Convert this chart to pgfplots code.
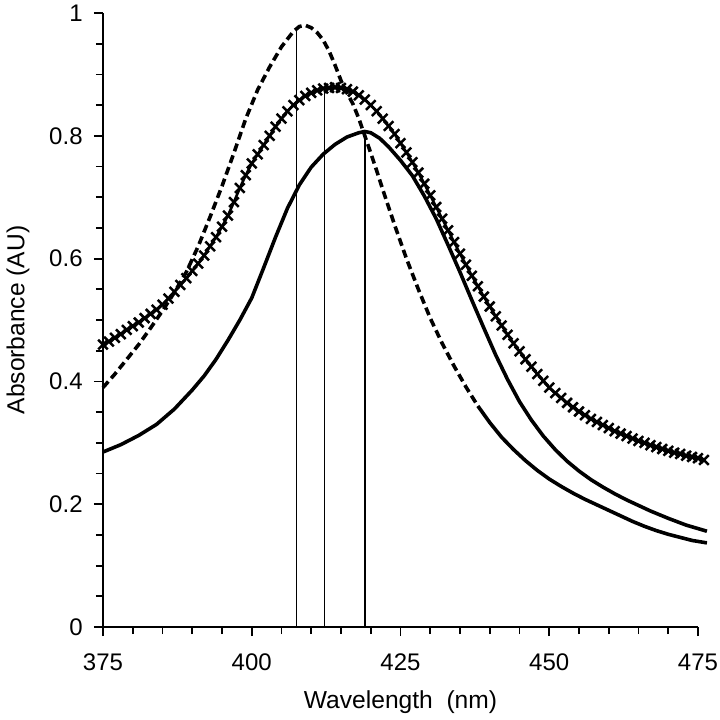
\documentclass[border=0pt]{standalone}
\usepackage{pgfplots}
\pgfplotsset{compat=1.18}
\usepackage{fontspec}
\setmainfont{Liberation Sans}
\begin{document}
\begin{tikzpicture}
\begin{axis}[name=ax, at={(0,0)}, anchor=south west,
 scale only axis, width=297.5pt, height=307pt,
 xmin=375, xmax=475, ymin=0, ymax=1,
 axis lines=left, axis line style={line width=1pt, -},
 xtick={375,400,425,450,475}, minor x tick num=4,
 ytick={0,0.2,0.4,0.6,0.8,1}, minor y tick num=3,
 tick align=outside, major tick length=4.5pt, minor tick length=3.5pt,
 tick style={line width=0.9pt, black},
 ticklabel style={font=\fontsize{12}{14}\selectfont},
 /pgf/number format/assume math mode=true,
 xticklabel style={anchor=north, inner sep=0pt, yshift=-8.7pt},
 yticklabel style={anchor=east, inner sep=0pt, xshift=-5.5pt},
 xlabel={Wavelength~~(nm)}, ylabel={Absorbance (AU)},
 label style={font=\fontsize{12.3}{15}\selectfont},
 xlabel style={at={(axis description cs:0.5,-0.1221)}, anchor=center},
 ylabel style={at={(axis description cs:-0.1429,0.5)}, anchor=center},
 clip=false,
]
% vertical lines at the peaks
\addplot[black, line width=0.8pt] coordinates {(407.5,0) (407.5,0.978)};
\addplot[black, line width=0.8pt] coordinates {(412.2,0) (412.2,0.877)};
\addplot[black, line width=0.8pt] coordinates {(419.0,0) (419.0,0.806)};
% solid series
\addplot[black, line width=1.8pt, line join=round] coordinates {
(375,0.285) (378,0.297) (381,0.312) (384,0.330) (387,0.355) (390,0.386)
(392,0.409) (394,0.436) (396,0.467) (398,0.500) (400,0.536) (402,0.585)
(404,0.635) (406,0.682) (408,0.720) (410,0.749) (412,0.770) (414,0.786)
(416,0.798) (418,0.805) (419,0.807) (420,0.805) (421.5,0.796) (423,0.782)
(425,0.760) (427,0.735) (429,0.702) (431,0.665) (433,0.622) (435,0.578)
(437,0.532) (439,0.487) (441,0.443) (443,0.403) (445,0.367) (447,0.337)
(449,0.311) (451,0.289) (453,0.270) (455,0.254) (457,0.240) (459,0.228)
(461,0.217) (463,0.207) (465,0.198) (467,0.189) (470,0.177) (473,0.166)
(476.5,0.156)};
% dashed series
\addplot[black, line width=1.8pt, dash pattern=on 4pt off 2.2pt] coordinates {
(375,0.390) (377,0.412) (379,0.436) (381,0.460) (383,0.487) (385,0.515)
(387,0.545) (389,0.578) (391,0.620) (393,0.668) (395,0.718) (397,0.772)
(399,0.828) (401,0.875) (403,0.912) (405,0.945) (407,0.970) (408,0.978)
(409,0.980) (410,0.976) (411,0.968) (412,0.956) (413,0.938) (414,0.915)
(415,0.890) (416,0.870) (417,0.852) (418,0.828) (419,0.800) (420,0.772)
(421,0.743) (422,0.713) (424,0.655) (426,0.600) (428,0.550) (430,0.503)
(432,0.462) (434,0.425) (436,0.391) (438,0.360)};
\addplot[black, line width=1.8pt, line join=round] coordinates {
(438,0.360) (440,0.333) (442,0.309) (444,0.289) (446,0.271) (448,0.255)
(450,0.241) (452,0.229) (454,0.218) (456,0.208) (458,0.199) (460,0.190)
(462,0.181) (464,0.172) (466,0.164) (468,0.157) (470,0.151) (472,0.146)
(474,0.141) (476.5,0.137)};
% crosses series
\addplot[black, line width=1.3pt, mark=x, mark size=3.4pt, mark options={line width=1.25pt}] coordinates {
(375,0.460) (376,0.465) (377,0.471) (378,0.477) (379,0.484) (380,0.490)
(381,0.496) (382,0.503) (383,0.510) (384,0.517) (385,0.525) (386,0.535)
(387,0.546) (388,0.557) (389,0.568) (390,0.580) (391,0.592) (392,0.605)
(393,0.620) (394,0.635) (395,0.652) (396,0.670) (397,0.692) (398,0.715)
(399,0.736) (400,0.755) (401,0.770) (402,0.785) (403,0.800) (404,0.815)
(405,0.828) (406,0.840) (407,0.850) (408,0.858) (409,0.865) (410,0.870)
(411,0.874) (412,0.877) (413,0.878) (414,0.879) (415,0.878) (416,0.876)
(417,0.872) (418,0.866) (419,0.859) (420,0.850) (421,0.840) (422,0.828)
(423,0.816) (424,0.803) (425,0.788) (426,0.773) (427,0.757) (428,0.740)
(429,0.722) (430,0.703) (431,0.684) (432,0.665) (433,0.646) (434,0.627)
(435,0.608) (436,0.590) (437,0.572) (438,0.555) (439,0.538) (440,0.522)
(441,0.506) (442,0.491) (443,0.476) (444,0.462) (445,0.449) (446,0.436)
(447,0.424) (448,0.412) (449,0.401) (450,0.390) (451,0.381) (452,0.373)
(453,0.365) (454,0.358) (455,0.351) (456,0.345) (457,0.339) (458,0.334)
(459,0.329) (460,0.324) (461,0.319) (462,0.315) (463,0.311) (464,0.307)
(465,0.303) (466,0.300) (467,0.296) (468,0.293) (469,0.290) (470,0.287)
(471,0.284) (472,0.282) (473,0.279) (474,0.277) (475,0.275) (476,0.272)};
\end{axis}
\pgfresetboundingbox
\path ([shift={(-51.5pt,-46pt)}]ax.south west) rectangle ([shift={(11pt,6.5pt)}]ax.north east);
\end{tikzpicture}
\end{document}
